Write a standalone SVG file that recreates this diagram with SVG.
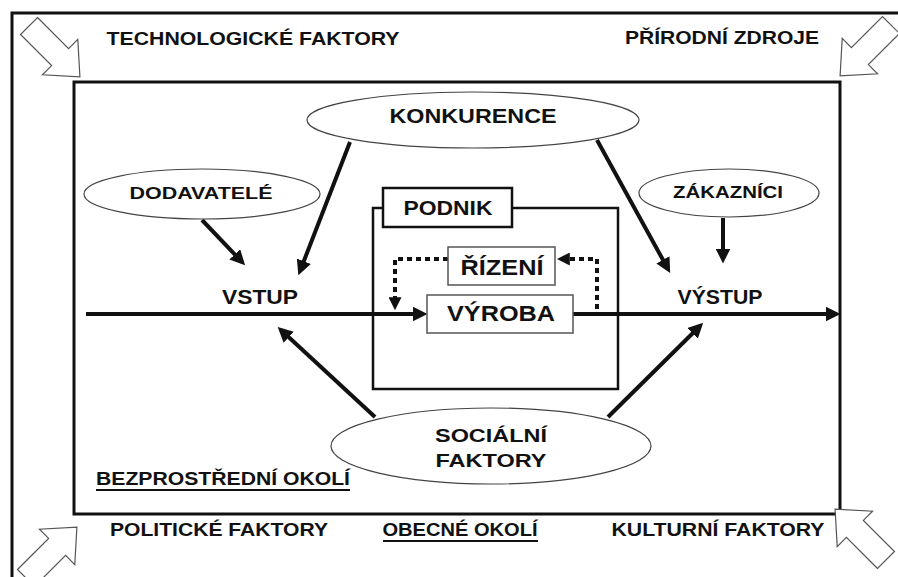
<svg xmlns="http://www.w3.org/2000/svg" width="898" height="577" viewBox="0 0 898 577">
<style>
  .lbl { font-family: "Liberation Sans", Arial, sans-serif; font-weight: bold; fill: #111; text-anchor: middle; }
  .frame { fill: none; stroke: #111; stroke-width: 3; }
  .ell { fill: #fff; stroke: #444; stroke-width: 1.2; }
  .thinbox { fill: #fff; stroke: #555; stroke-width: 1.5; }
  .thickbox { fill: #fff; stroke: #111; stroke-width: 2.5; }
  .arr { stroke: #111; stroke-width: 4; fill: none; marker-end: url(#ah); }
  .dot { stroke: #111; stroke-width: 4; fill: none; stroke-dasharray: 5 4; }
  .blk { fill: #fff; stroke: #555; stroke-width: 1.2; }
  .ul { stroke: #111; stroke-width: 1.8; }
</style>
<defs>
  <marker id="ah" viewBox="0 0 10 10" refX="7" refY="5" markerUnits="userSpaceOnUse" markerWidth="15" markerHeight="15" orient="auto">
    <path d="M0,0 L10,5 L0,10 z" fill="#111"/>
  </marker>
  <marker id="ahs" viewBox="0 0 10 10" refX="6" refY="5" markerUnits="userSpaceOnUse" markerWidth="13" markerHeight="13" orient="auto">
    <path d="M0,0 L10,5 L0,10 z" fill="#111"/>
  </marker>
  <path id="blockarrow" d="M0,-12 L44,-12 L44,-25 L72,0 L44,25 L44,12 L0,12 Z"/>
</defs>
<rect width="898" height="577" fill="#fff"/>

<g id="outer-frame">
  <path class="frame" d="M12,577 V13 H898"/>
</g>
<g id="inner-frame">
  <rect class="frame" x="74" y="82" width="766" height="432"/>
</g>

<g id="corner-arrows">
  <use href="#blockarrow" class="blk" transform="translate(29,26) rotate(45)"/>
  <use href="#blockarrow" class="blk" transform="translate(891,25) rotate(135)"/>
  <use href="#blockarrow" class="blk" transform="translate(26,578) rotate(-45)"/>
  <use href="#blockarrow" class="blk" transform="translate(886,560) rotate(-135)"/>
</g>

<g id="podnik">
  <rect class="thickbox" x="373" y="208" width="245" height="181"/>
  <rect class="thickbox" x="383" y="188" width="129" height="39"/>
  <text class="lbl" x="448" y="215" font-size="20" textLength="89" lengthAdjust="spacingAndGlyphs">PODNIK</text>
</g>

<g id="connectors">
  <line class="arr" x1="86" y1="314" x2="423" y2="314"/>
  <line class="arr" x1="573" y1="314" x2="836" y2="314"/>
  <line class="arr" x1="202" y1="220" x2="242" y2="262"/>
  <line class="arr" x1="350" y1="142" x2="300" y2="271"/>
  <line class="arr" x1="597" y1="140" x2="668" y2="269"/>
  <line class="arr" x1="723" y1="218" x2="723" y2="259"/>
  <line class="arr" x1="375" y1="417" x2="281" y2="330"/>
  <line class="arr" x1="608" y1="417" x2="700" y2="326"/>
  <path class="dot" d="M597,309 V259 H562" marker-end="url(#ahs)"/>
  <path class="dot" d="M448,259 H395 V305" marker-end="url(#ahs)"/>
</g>

<g id="rizeni">
  <rect class="thinbox" x="448" y="247" width="107" height="38"/>
  <text class="lbl" x="502" y="275" font-size="22" textLength="83" lengthAdjust="spacingAndGlyphs">ŘÍZENÍ</text>
</g>
<g id="vyroba">
  <rect class="thinbox" x="427" y="295" width="146" height="38"/>
  <text class="lbl" x="501" y="321" font-size="22" textLength="108" lengthAdjust="spacingAndGlyphs">VÝROBA</text>
</g>

<g id="konkurence">
  <ellipse class="ell" cx="473" cy="120" rx="166" ry="28"/>
  <text class="lbl" x="473" y="123" font-size="20" textLength="167" lengthAdjust="spacingAndGlyphs">KONKURENCE</text>
</g>
<g id="dodavatele">
  <ellipse class="ell" cx="202" cy="194" rx="118" ry="25"/>
  <text class="lbl" x="201" y="199" font-size="17" textLength="143" lengthAdjust="spacingAndGlyphs">DODAVATELÉ</text>
</g>
<g id="zakaznici">
  <ellipse class="ell" cx="729" cy="193" rx="90" ry="24"/>
  <text class="lbl" x="728" y="198" font-size="17" textLength="110" lengthAdjust="spacingAndGlyphs">ZÁKAZNÍCI</text>
</g>
<g id="socialni">
  <ellipse class="ell" cx="491" cy="446" rx="160" ry="38"/>
  <text class="lbl" x="491" y="442" font-size="19" textLength="112" lengthAdjust="spacingAndGlyphs">SOCIÁLNÍ</text>
  <text class="lbl" x="491" y="467" font-size="19" textLength="111" lengthAdjust="spacingAndGlyphs">FAKTORY</text>
</g>

<g id="vstup">
  <text class="lbl" x="260" y="304" font-size="21" textLength="76" lengthAdjust="spacingAndGlyphs">VSTUP</text>
</g>
<g id="vystup">
  <text class="lbl" x="720" y="304" font-size="21" textLength="85" lengthAdjust="spacingAndGlyphs">VÝSTUP</text>
</g>

<g id="environment-labels">
  <text class="lbl" x="253" y="45" font-size="19" textLength="293" lengthAdjust="spacingAndGlyphs">TECHNOLOGICKÉ FAKTORY</text>
  <text class="lbl" x="722" y="44" font-size="19" textLength="194" lengthAdjust="spacingAndGlyphs">PŘÍRODNÍ ZDROJE</text>
  <text class="lbl" x="219" y="536" font-size="19" textLength="218" lengthAdjust="spacingAndGlyphs">POLITICKÉ FAKTORY</text>
  <text class="lbl" x="718" y="536" font-size="19" textLength="213" lengthAdjust="spacingAndGlyphs">KULTURNÍ FAKTORY</text>
  <text class="lbl" x="460" y="536" font-size="19" textLength="155" lengthAdjust="spacingAndGlyphs">OBECNÉ OKOLÍ</text>
  <line class="ul" x1="383" y1="541" x2="538" y2="541"/>
  <text class="lbl" x="223" y="485" font-size="19" textLength="254" lengthAdjust="spacingAndGlyphs">BEZPROSTŘEDNÍ OKOLÍ</text>
  <line class="ul" x1="96" y1="490" x2="350" y2="490"/>
</g>
</svg>
